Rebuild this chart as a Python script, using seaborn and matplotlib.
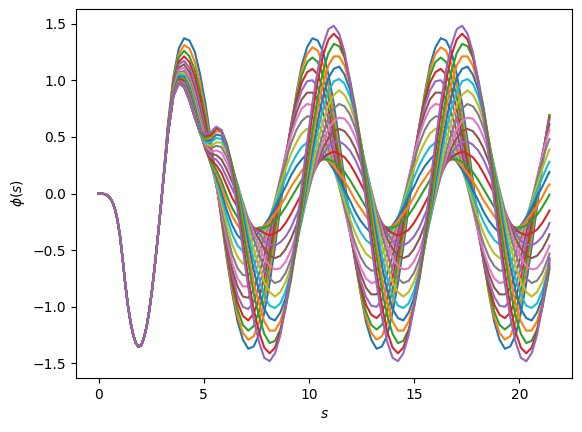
import matplotlib
matplotlib.use("Agg")
import matplotlib.pyplot as plt
import seaborn as sns
import numpy as np

# shared start of every curve (all curves coincide here)
s_head = [0.000, 0.127, 0.254, 0.381, 0.508, 0.635, 0.763, 0.890, 1.017, 1.144,
          1.271, 1.398, 1.525, 1.652, 1.779, 1.906, 2.033, 2.160, 2.288, 2.415,
          2.542, 2.669, 2.796, 2.923, 3.050]
phi_head = [0.000, -0.001, -0.004, -0.012, -0.030, -0.065, -0.125, -0.225, -0.370, -0.575,
            -0.800, -0.990, -1.140, -1.250, -1.322, -1.352, -1.338, -1.273, -1.172, -1.030,
            -0.853, -0.646, -0.424, -0.185, 0.061]

# sample positions after the curves separate
s_tail = [3.304, 3.558, 3.813, 4.067, 4.321,
          4.575, 4.829, 5.083, 5.338, 5.592, 5.846, 6.100, 6.354, 6.608, 6.863, 7.117, 7.371,
          7.625, 7.879, 8.133, 8.388, 8.642, 8.896, 9.150, 9.404, 9.658, 9.913, 10.167, 10.421,
          10.675, 10.929, 11.183, 11.438, 11.692, 11.946, 12.200, 12.454, 12.708, 12.963, 13.217, 13.471,
          13.725, 13.979, 14.233, 14.488, 14.742, 14.996, 15.250, 15.504, 15.758, 16.013, 16.267, 16.521,
          16.775, 17.029, 17.283, 17.538, 17.792, 18.046, 18.300, 18.554, 18.808, 19.063, 19.317, 19.571,
          19.825, 20.079, 20.333, 20.588, 20.842, 21.096, 21.350,
          21.435]

phi_00 = [0.62, 1.03, 1.28, 1.37, 1.35,
          1.25, 1.05, 0.79, 0.47, 0.12, -0.24, -0.58, -0.88, -1.13, -1.29, -1.37, -1.35,
          -1.25, -1.05, -0.79, -0.47, -0.12, 0.24, 0.58, 0.88, 1.13, 1.29, 1.37, 1.35,
          1.25, 1.05, 0.79, 0.47, 0.12, -0.24, -0.58, -0.88, -1.13, -1.29, -1.37, -1.35,
          -1.25, -1.05, -0.79, -0.47, -0.12, 0.24, 0.58, 0.88, 1.13, 1.29, 1.37, 1.35,
          1.25, 1.05, 0.79, 0.47, 0.12, -0.24, -0.58, -0.88, -1.13, -1.29, -1.37, -1.35,
          -1.25, -1.05, -0.79, -0.47, -0.12, 0.24, 0.58,
          0.69]
phi_01 = [0.61, 1.01, 1.23, 1.31, 1.28,
          1.16, 0.97, 0.72, 0.43, 0.11, -0.23, -0.56, -0.85, -1.08, -1.23, -1.29, -1.26,
          -1.14, -0.95, -0.69, -0.39, -0.06, 0.28, 0.60, 0.87, 1.09, 1.23, 1.29, 1.26,
          1.14, 0.95, 0.69, 0.39, 0.06, -0.28, -0.60, -0.87, -1.09, -1.23, -1.29, -1.26,
          -1.14, -0.95, -0.69, -0.39, -0.06, 0.28, 0.60, 0.87, 1.09, 1.23, 1.29, 1.26,
          1.14, 0.95, 0.69, 0.39, 0.06, -0.28, -0.60, -0.87, -1.09, -1.23, -1.29, -1.26,
          -1.14, -0.95, -0.69, -0.39, -0.06, 0.28, 0.60,
          0.69]
phi_02 = [0.60, 0.99, 1.20, 1.26, 1.21,
          1.09, 0.90, 0.66, 0.39, 0.10, -0.22, -0.53, -0.81, -1.02, -1.16, -1.21, -1.17,
          -1.04, -0.85, -0.60, -0.31, 0.00, 0.31, 0.60, 0.85, 1.04, 1.16, 1.20, 1.16,
          1.04, 0.85, 0.60, 0.31, 0.00, -0.31, -0.60, -0.85, -1.04, -1.16, -1.20, -1.16,
          -1.04, -0.85, -0.60, -0.31, 0.00, 0.31, 0.60, 0.85, 1.04, 1.16, 1.20, 1.16,
          1.04, 0.85, 0.60, 0.31, 0.00, -0.31, -0.60, -0.85, -1.04, -1.16, -1.20, -1.16,
          -1.04, -0.85, -0.60, -0.31, 0.00, 0.31, 0.60,
          0.69]
phi_03 = [0.59, 0.97, 1.16, 1.21, 1.16,
          1.03, 0.84, 0.61, 0.36, 0.09, -0.20, -0.50, -0.77, -0.96, -1.08, -1.12, -1.06,
          -0.93, -0.74, -0.51, -0.24, 0.05, 0.33, 0.59, 0.81, 0.98, 1.07, 1.10, 1.05,
          0.93, 0.74, 0.51, 0.24, -0.05, -0.33, -0.59, -0.81, -0.98, -1.07, -1.10, -1.05,
          -0.93, -0.74, -0.51, -0.24, 0.05, 0.33, 0.59, 0.81, 0.98, 1.07, 1.10, 1.05,
          0.93, 0.74, 0.51, 0.24, -0.05, -0.33, -0.59, -0.81, -0.98, -1.07, -1.10, -1.05,
          -0.93, -0.74, -0.51, -0.24, 0.05, 0.33, 0.59,
          0.67]
phi_04 = [0.58, 0.95, 1.14, 1.17, 1.11,
          0.97, 0.78, 0.56, 0.33, 0.08, -0.19, -0.47, -0.72, -0.90, -1.00, -1.02, -0.96,
          -0.82, -0.65, -0.43, -0.17, 0.09, 0.34, 0.58, 0.77, 0.91, 0.99, 1.00, 0.94,
          0.82, 0.65, 0.43, 0.17, -0.09, -0.34, -0.58, -0.77, -0.91, -0.99, -1.00, -0.94,
          -0.82, -0.65, -0.43, -0.17, 0.09, 0.34, 0.58, 0.77, 0.91, 0.99, 1.00, 0.94,
          0.82, 0.65, 0.43, 0.17, -0.09, -0.34, -0.58, -0.77, -0.91, -0.99, -1.00, -0.94,
          -0.82, -0.65, -0.43, -0.17, 0.09, 0.34, 0.58,
          0.65]
phi_05 = [0.57, 0.94, 1.11, 1.14, 1.07,
          0.92, 0.73, 0.52, 0.30, 0.08, -0.17, -0.44, -0.67, -0.82, -0.91, -0.92, -0.85,
          -0.71, -0.55, -0.34, -0.12, 0.12, 0.34, 0.55, 0.71, 0.83, 0.89, 0.89, 0.83,
          0.71, 0.55, 0.34, 0.12, -0.12, -0.34, -0.55, -0.71, -0.83, -0.89, -0.89, -0.83,
          -0.71, -0.55, -0.34, -0.12, 0.12, 0.34, 0.55, 0.71, 0.83, 0.89, 0.89, 0.83,
          0.71, 0.55, 0.34, 0.12, -0.12, -0.34, -0.55, -0.71, -0.83, -0.89, -0.89, -0.83,
          -0.71, -0.55, -0.34, -0.12, 0.12, 0.34, 0.55,
          0.61]
phi_06 = [0.56, 0.93, 1.09, 1.11, 1.03,
          0.88, 0.69, 0.48, 0.28, 0.07, -0.16, -0.40, -0.61, -0.75, -0.82, -0.82, -0.74,
          -0.61, -0.46, -0.27, -0.07, 0.14, 0.34, 0.51, 0.65, 0.75, 0.79, 0.78, 0.72,
          0.61, 0.46, 0.27, 0.07, -0.14, -0.34, -0.51, -0.65, -0.75, -0.79, -0.78, -0.72,
          -0.61, -0.46, -0.27, -0.07, 0.14, 0.34, 0.51, 0.65, 0.75, 0.79, 0.78, 0.72,
          0.61, 0.46, 0.27, 0.07, -0.14, -0.34, -0.51, -0.65, -0.75, -0.79, -0.78, -0.72,
          -0.61, -0.46, -0.27, -0.07, 0.14, 0.34, 0.51,
          0.56]
phi_07 = [0.56, 0.92, 1.07, 1.08, 1.00,
          0.84, 0.66, 0.46, 0.27, 0.08, -0.12, -0.35, -0.54, -0.66, -0.72, -0.72, -0.65,
          -0.53, -0.39, -0.23, -0.06, 0.12, 0.29, 0.44, 0.56, 0.64, 0.68, 0.68, 0.62,
          0.53, 0.39, 0.23, 0.06, -0.12, -0.29, -0.44, -0.56, -0.64, -0.68, -0.68, -0.62,
          -0.53, -0.39, -0.23, -0.06, 0.12, 0.29, 0.44, 0.56, 0.64, 0.68, 0.68, 0.62,
          0.53, 0.39, 0.23, 0.06, -0.12, -0.29, -0.44, -0.56, -0.64, -0.68, -0.68, -0.62,
          -0.53, -0.39, -0.23, -0.06, 0.12, 0.29, 0.44,
          0.48]
phi_08 = [0.55, 0.91, 1.06, 1.06, 0.97,
          0.81, 0.63, 0.44, 0.26, 0.10, -0.08, -0.28, -0.45, -0.56, -0.62, -0.61, -0.56,
          -0.45, -0.35, -0.22, -0.07, 0.07, 0.22, 0.35, 0.45, 0.53, 0.57, 0.57, 0.53,
          0.45, 0.35, 0.22, 0.07, -0.07, -0.22, -0.35, -0.45, -0.53, -0.57, -0.57, -0.53,
          -0.45, -0.35, -0.22, -0.07, 0.07, 0.22, 0.35, 0.45, 0.53, 0.57, 0.57, 0.53,
          0.45, 0.35, 0.22, 0.07, -0.07, -0.22, -0.35, -0.45, -0.53, -0.57, -0.57, -0.53,
          -0.45, -0.35, -0.22, -0.07, 0.07, 0.22, 0.35,
          0.39]
phi_09 = [0.55, 0.90, 1.05, 1.04, 0.95,
          0.79, 0.60, 0.42, 0.26, 0.13, -0.03, -0.21, -0.36, -0.46, -0.51, -0.52, -0.47,
          -0.39, -0.31, -0.21, -0.10, 0.02, 0.14, 0.25, 0.34, 0.41, 0.45, 0.46, 0.44,
          0.39, 0.31, 0.21, 0.10, -0.02, -0.14, -0.25, -0.34, -0.41, -0.45, -0.46, -0.44,
          -0.39, -0.31, -0.21, -0.10, 0.02, 0.14, 0.25, 0.34, 0.41, 0.45, 0.46, 0.44,
          0.39, 0.31, 0.21, 0.10, -0.02, -0.14, -0.25, -0.34, -0.41, -0.45, -0.46, -0.44,
          -0.39, -0.31, -0.21, -0.10, 0.02, 0.14, 0.25,
          0.28]
phi_10 = [0.55, 0.90, 1.03, 1.03, 0.93,
          0.76, 0.58, 0.40, 0.26, 0.15, 0.01, -0.15, -0.28, -0.37, -0.42, -0.43, -0.40,
          -0.34, -0.28, -0.21, -0.13, -0.03, 0.06, 0.16, 0.24, 0.30, 0.35, 0.37, 0.36,
          0.34, 0.28, 0.21, 0.13, 0.03, -0.06, -0.16, -0.24, -0.30, -0.35, -0.37, -0.36,
          -0.34, -0.28, -0.21, -0.13, -0.03, 0.06, 0.16, 0.24, 0.30, 0.35, 0.37, 0.36,
          0.34, 0.28, 0.21, 0.13, 0.03, -0.06, -0.16, -0.24, -0.30, -0.35, -0.37, -0.36,
          -0.34, -0.28, -0.21, -0.13, -0.03, 0.06, 0.16,
          0.19]
phi_11 = [0.54, 0.89, 1.02, 1.01, 0.91,
          0.74, 0.56, 0.40, 0.27, 0.18, 0.06, -0.08, -0.20, -0.28, -0.34, -0.36, -0.35,
          -0.31, -0.29, -0.24, -0.18, -0.11, -0.03, 0.06, 0.13, 0.20, 0.26, 0.30, 0.31,
          0.31, 0.29, 0.24, 0.18, 0.11, 0.03, -0.06, -0.13, -0.20, -0.26, -0.30, -0.31,
          -0.31, -0.29, -0.24, -0.18, -0.11, -0.03, 0.06, 0.13, 0.20, 0.26, 0.30, 0.31,
          0.31, 0.29, 0.24, 0.18, 0.11, 0.03, -0.06, -0.13, -0.20, -0.26, -0.30, -0.31,
          -0.31, -0.29, -0.24, -0.18, -0.11, -0.03, 0.06,
          0.08]
phi_12 = [0.54, 0.89, 1.02, 1.00, 0.90,
          0.73, 0.55, 0.39, 0.28, 0.21, 0.11, -0.02, -0.13, -0.21, -0.28, -0.31, -0.32,
          -0.30, -0.30, -0.28, -0.24, -0.19, -0.12, -0.04, 0.04, 0.12, 0.19, 0.24, 0.28,
          0.30, 0.30, 0.28, 0.24, 0.19, 0.12, 0.04, -0.04, -0.12, -0.19, -0.24, -0.28,
          -0.30, -0.30, -0.28, -0.24, -0.19, -0.12, -0.04, 0.04, 0.12, 0.19, 0.24, 0.28,
          0.30, 0.30, 0.28, 0.24, 0.19, 0.12, 0.04, -0.04, -0.12, -0.19, -0.24, -0.28,
          -0.30, -0.30, -0.28, -0.24, -0.19, -0.12, -0.04,
          -0.01]
phi_13 = [0.54, 0.88, 1.01, 0.99, 0.88,
          0.71, 0.54, 0.39, 0.30, 0.25, 0.18, 0.07, -0.04, -0.12, -0.19, -0.26, -0.30,
          -0.32, -0.35, -0.37, -0.35, -0.32, -0.26, -0.18, -0.09, 0.00, 0.09, 0.18, 0.26,
          0.32, 0.35, 0.37, 0.35, 0.32, 0.26, 0.18, 0.09, 0.00, -0.09, -0.18, -0.26,
          -0.32, -0.35, -0.37, -0.35, -0.32, -0.26, -0.18, -0.09, 0.00, 0.09, 0.18, 0.26,
          0.32, 0.35, 0.37, 0.35, 0.32, 0.26, 0.18, 0.09, 0.00, -0.09, -0.18, -0.26,
          -0.32, -0.35, -0.37, -0.35, -0.32, -0.26, -0.18,
          -0.15]
phi_14 = [0.54, 0.88, 1.00, 0.98, 0.87,
          0.70, 0.53, 0.40, 0.32, 0.30, 0.24, 0.14, 0.04, -0.05, -0.14, -0.23, -0.30,
          -0.35, -0.42, -0.45, -0.46, -0.43, -0.38, -0.30, -0.19, -0.08, 0.04, 0.16, 0.26,
          0.35, 0.42, 0.45, 0.46, 0.43, 0.38, 0.30, 0.19, 0.08, -0.04, -0.16, -0.26,
          -0.35, -0.42, -0.45, -0.46, -0.43, -0.38, -0.30, -0.19, -0.08, 0.04, 0.16, 0.26,
          0.35, 0.42, 0.45, 0.46, 0.43, 0.38, 0.30, 0.19, 0.08, -0.04, -0.16, -0.26,
          -0.35, -0.42, -0.45, -0.46, -0.43, -0.38, -0.30,
          -0.26]
phi_15 = [0.53, 0.87, 1.00, 0.97, 0.86,
          0.69, 0.53, 0.41, 0.35, 0.34, 0.30, 0.21, 0.10, 0.01, -0.11, -0.22, -0.32,
          -0.40, -0.49, -0.55, -0.57, -0.55, -0.49, -0.40, -0.28, -0.15, 0.00, 0.15, 0.28,
          0.40, 0.49, 0.55, 0.57, 0.55, 0.49, 0.40, 0.28, 0.15, 0.00, -0.15, -0.28,
          -0.40, -0.49, -0.55, -0.57, -0.55, -0.49, -0.40, -0.28, -0.15, 0.00, 0.15, 0.28,
          0.40, 0.49, 0.55, 0.57, 0.55, 0.49, 0.40, 0.28, 0.15, 0.00, -0.15, -0.28,
          -0.40, -0.49, -0.55, -0.57, -0.55, -0.49, -0.40,
          -0.36]
phi_16 = [0.53, 0.87, 0.99, 0.97, 0.85,
          0.69, 0.53, 0.42, 0.37, 0.38, 0.36, 0.27, 0.16, 0.05, -0.08, -0.22, -0.35,
          -0.46, -0.57, -0.64, -0.67, -0.66, -0.60, -0.50, -0.36, -0.20, -0.03, 0.15, 0.31,
          0.46, 0.57, 0.64, 0.67, 0.66, 0.60, 0.50, 0.36, 0.20, 0.03, -0.15, -0.31,
          -0.46, -0.57, -0.64, -0.67, -0.66, -0.60, -0.50, -0.36, -0.20, -0.03, 0.15, 0.31,
          0.46, 0.57, 0.64, 0.67, 0.66, 0.60, 0.50, 0.36, 0.20, 0.03, -0.15, -0.31,
          -0.46, -0.57, -0.64, -0.67, -0.66, -0.60, -0.50,
          -0.46]
phi_17 = [0.53, 0.87, 0.99, 0.96, 0.85,
          0.68, 0.53, 0.43, 0.40, 0.42, 0.41, 0.32, 0.21, 0.08, -0.08, -0.25, -0.40,
          -0.53, -0.67, -0.75, -0.79, -0.77, -0.70, -0.58, -0.42, -0.24, -0.03, 0.17, 0.37,
          0.53, 0.67, 0.75, 0.79, 0.77, 0.70, 0.58, 0.42, 0.24, 0.03, -0.17, -0.37,
          -0.53, -0.67, -0.75, -0.79, -0.77, -0.70, -0.58, -0.42, -0.24, -0.03, 0.17, 0.37,
          0.53, 0.67, 0.75, 0.79, 0.77, 0.70, 0.58, 0.42, 0.24, 0.03, -0.17, -0.37,
          -0.53, -0.67, -0.75, -0.79, -0.77, -0.70, -0.58,
          -0.53]
phi_18 = [0.53, 0.87, 0.98, 0.95, 0.84,
          0.68, 0.53, 0.44, 0.42, 0.45, 0.45, 0.36, 0.23, 0.08, -0.11, -0.30, -0.49,
          -0.64, -0.78, -0.87, -0.91, -0.87, -0.78, -0.64, -0.45, -0.23, 0.00, 0.23, 0.45,
          0.64, 0.78, 0.87, 0.91, 0.87, 0.78, 0.64, 0.45, 0.23, 0.00, -0.23, -0.45,
          -0.64, -0.78, -0.87, -0.91, -0.87, -0.78, -0.64, -0.45, -0.23, 0.00, 0.23, 0.45,
          0.64, 0.78, 0.87, 0.91, 0.87, 0.78, 0.64, 0.45, 0.23, 0.00, -0.23, -0.45,
          -0.64, -0.78, -0.87, -0.91, -0.87, -0.78, -0.64,
          -0.58]
phi_19 = [0.53, 0.87, 0.98, 0.95, 0.83,
          0.67, 0.54, 0.45, 0.45, 0.49, 0.48, 0.39, 0.24, 0.07, -0.14, -0.37, -0.58,
          -0.75, -0.90, -0.99, -1.01, -0.97, -0.86, -0.69, -0.47, -0.22, 0.04, 0.31, 0.55,
          0.75, 0.90, 0.99, 1.01, 0.97, 0.86, 0.69, 0.47, 0.22, -0.04, -0.31, -0.55,
          -0.75, -0.90, -0.99, -1.01, -0.97, -0.86, -0.69, -0.47, -0.22, 0.04, 0.31, 0.55,
          0.75, 0.90, 0.99, 1.01, 0.97, 0.86, 0.69, 0.47, 0.22, -0.04, -0.31, -0.55,
          -0.75, -0.90, -0.99, -1.01, -0.97, -0.86, -0.69,
          -0.62]
phi_20 = [0.53, 0.86, 0.98, 0.95, 0.83,
          0.67, 0.54, 0.47, 0.47, 0.52, 0.51, 0.41, 0.25, 0.05, -0.19, -0.44, -0.67,
          -0.86, -1.02, -1.10, -1.12, -1.05, -0.92, -0.72, -0.47, -0.19, 0.10, 0.38, 0.64,
          0.86, 1.02, 1.10, 1.12, 1.05, 0.92, 0.72, 0.47, 0.19, -0.10, -0.38, -0.64,
          -0.86, -1.02, -1.10, -1.12, -1.05, -0.92, -0.72, -0.47, -0.19, 0.10, 0.38, 0.64,
          0.86, 1.02, 1.10, 1.12, 1.05, 0.92, 0.72, 0.47, 0.19, -0.10, -0.38, -0.64,
          -0.86, -1.02, -1.10, -1.12, -1.05, -0.92, -0.72,
          -0.64]
phi_21 = [0.53, 0.86, 0.98, 0.94, 0.82,
          0.67, 0.55, 0.48, 0.49, 0.55, 0.54, 0.43, 0.25, 0.03, -0.25, -0.53, -0.78,
          -0.97, -1.13, -1.21, -1.21, -1.13, -0.97, -0.75, -0.47, -0.16, 0.16, 0.47, 0.75,
          0.97, 1.13, 1.21, 1.21, 1.13, 0.97, 0.75, 0.47, 0.16, -0.16, -0.47, -0.75,
          -0.97, -1.13, -1.21, -1.21, -1.13, -0.97, -0.75, -0.47, -0.16, 0.16, 0.47, 0.75,
          0.97, 1.13, 1.21, 1.21, 1.13, 0.97, 0.75, 0.47, 0.16, -0.16, -0.47, -0.75,
          -0.97, -1.13, -1.21, -1.21, -1.13, -0.97, -0.75,
          -0.66]
phi_22 = [0.53, 0.86, 0.97, 0.94, 0.82,
          0.67, 0.55, 0.49, 0.51, 0.57, 0.56, 0.44, 0.24, -0.01, -0.31, -0.61, -0.88,
          -1.08, -1.24, -1.32, -1.30, -1.20, -1.01, -0.76, -0.45, -0.12, 0.23, 0.56, 0.85,
          1.08, 1.24, 1.32, 1.30, 1.20, 1.01, 0.76, 0.45, 0.12, -0.23, -0.56, -0.85,
          -1.08, -1.24, -1.32, -1.30, -1.20, -1.01, -0.76, -0.45, -0.12, 0.23, 0.56, 0.85,
          1.08, 1.24, 1.32, 1.30, 1.20, 1.01, 0.76, 0.45, 0.12, -0.23, -0.56, -0.85,
          -1.08, -1.24, -1.32, -1.30, -1.20, -1.01, -0.76,
          -0.66]
phi_23 = [0.53, 0.86, 0.97, 0.94, 0.82,
          0.67, 0.56, 0.51, 0.52, 0.58, 0.55, 0.41, 0.18, -0.10, -0.42, -0.75, -1.02,
          -1.22, -1.36, -1.41, -1.36, -1.22, -0.99, -0.70, -0.36, 0.00, 0.36, 0.70, 0.99,
          1.22, 1.36, 1.41, 1.36, 1.22, 0.99, 0.70, 0.36, 0.00, -0.36, -0.70, -0.99,
          -1.22, -1.36, -1.41, -1.36, -1.22, -0.99, -0.70, -0.36, 0.00, 0.36, 0.70, 0.99,
          1.22, 1.36, 1.41, 1.36, 1.22, 0.99, 0.70, 0.36, 0.00, -0.36, -0.70, -0.99,
          -1.22, -1.36, -1.41, -1.36, -1.22, -0.99, -0.70,
          -0.59]
phi_24 = [0.53, 0.86, 0.97, 0.94, 0.82,
          0.67, 0.56, 0.52, 0.54, 0.59, 0.56, 0.40, 0.15, -0.15, -0.50, -0.83, -1.11,
          -1.31, -1.45, -1.48, -1.41, -1.25, -1.00, -0.68, -0.32, 0.07, 0.45, 0.80, 1.09,
          1.31, 1.45, 1.48, 1.41, 1.25, 1.00, 0.68, 0.32, -0.07, -0.45, -0.80, -1.09,
          -1.31, -1.45, -1.48, -1.41, -1.25, -1.00, -0.68, -0.32, 0.07, 0.45, 0.80, 1.09,
          1.31, 1.45, 1.48, 1.41, 1.25, 1.00, 0.68, 0.32, -0.07, -0.45, -0.80, -1.09,
          -1.31, -1.45, -1.48, -1.41, -1.25, -1.00, -0.68,
          -0.57]

tails = [phi_00, phi_01, phi_02, phi_03, phi_04, phi_05, phi_06, phi_07, phi_08,
         phi_09, phi_10, phi_11, phi_12, phi_13, phi_14, phi_15, phi_16, phi_17,
         phi_18, phi_19, phi_20, phi_21, phi_22, phi_23, phi_24]

s_all = np.array(s_head + s_tail)

fig = plt.figure(figsize=(5.82, 4.32), dpi=100)
ax = fig.add_axes([76 / 582, 54 / 432, 496 / 582, 369 / 432])
palette = sns.color_palette("tab10", 10)
for k, tail in enumerate(tails):
    y = np.array(phi_head + tail)
    sns.lineplot(x=s_all, y=y, ax=ax, color=palette[k % 10], linewidth=1.5,
                 estimator=None, sort=False, legend=False)

ax.set_xlabel("$s$")
ax.set_ylabel(r"$\phi(s)$")
fig.savefig("out.png", dpi=100)
